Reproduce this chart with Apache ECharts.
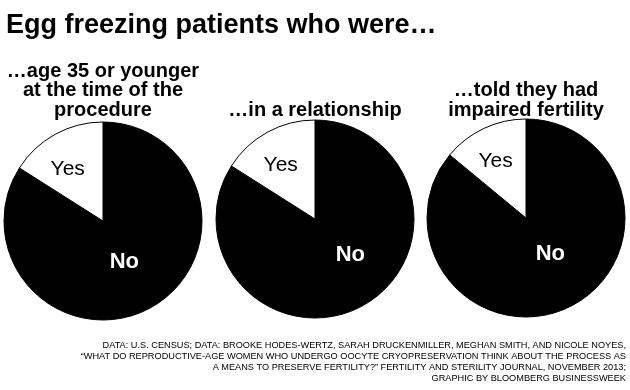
<!DOCTYPE html>
<html>
<head>
<meta charset="utf-8">
<script src="https://cdn.jsdelivr.net/npm/echarts@6/dist/echarts.min.js"></script>
<style>
  html, body { margin: 0; padding: 0; background: #ffffff; }
  #chart { width: 630px; height: 390px; }
</style>
</head>
<body>
<div id="chart"></div>
<script>
// ---- Data ----
const mainTitle = 'Egg freezing patients who were\u2026';
const questions = [
  '\u2026age 35 or younger\nat the time of the\nprocedure',
  '\u2026in a relationship',
  '\u2026told they had\nimpaired fertility'
];
const categories = ['No', 'Yes'];
const noValues = [84, 84, 86];
const yesValues = [16, 16, 14];
const footnoteLines = [
  'DATA: U.S. CENSUS; DATA: BROOKE HODES-WERTZ, SARAH DRUCKENMILLER, MEGHAN SMITH, AND NICOLE NOYES,',
  '\u201CWHAT DO REPRODUCTIVE-AGE WOMEN WHO UNDERGO OOCYTE CRYOPRESERVATION THINK ABOUT THE PROCESS AS',
  'A MEANS TO PRESERVE FERTILITY?\u201D FERTILITY AND STERILITY JOURNAL, NOVEMBER 2013;',
  'GRAPHIC BY BLOOMBERG BUSINESSWEEK'
];

// ---- Layout ----
const FONT = '"Liberation Sans", Arial, Helvetica, sans-serif';
const centers = [[103, 221], [315, 219], [526, 218]];
const radius = 99;
// label nudges (dx, dy) relative to default inside position
const yesNudge = [[-10, -6], [-9, -8], [-8, -9]];
const noNudge = [[-4, -5], [10, -10], [2, -12]];

const chart = echarts.init(document.getElementById('chart'), null, { renderer: 'canvas' });

const series = questions.map((q, i) => ({
  type: 'pie',
  center: centers[i],
  radius: [0, radius],
  startAngle: 90,
  clockwise: true,
  silent: true,
  animation: false,
  label: {
    show: true,
    position: 'inside',
    fontFamily: FONT
  },
  labelLine: { show: false },
  labelLayout: function (params) {
    const n = params.dataIndex === 0 ? noNudge[i] : yesNudge[i];
    return { dx: n[0], dy: n[1] };
  },
  itemStyle: { borderColor: '#000000', borderWidth: 1 },
  emphasis: { disabled: true },
  data: [
    {
      name: categories[0], value: noValues[i],
      itemStyle: { color: '#000000' },
      label: { color: '#ffffff', fontSize: 22, fontWeight: 'bold', formatter: '{b}' }
    },
    {
      name: categories[1], value: yesValues[i],
      itemStyle: { color: '#ffffff' },
      label: { color: '#000000', fontSize: 21, fontWeight: 'normal', formatter: '{b}' }
    }
  ]
}));

const graphics = questions.map((q, i) => ({
  type: 'text',
  x: centers[i][0],
  y: 120,
  silent: true,
  style: {
    text: q,
    fill: '#000000',
    fontSize: 20,
    fontWeight: 'bold',
    fontFamily: FONT,
    lineHeight: 19.5,
    align: 'center',
    verticalAlign: 'bottom'
  }
}));

graphics.push({
  type: 'text',
  x: 626,
  y: 339.5,
  silent: true,
  style: {
    text: footnoteLines.join('\n'),
    fill: '#000000',
    fontSize: 9.2,
    fontWeight: 500,
    fontFamily: FONT,
    lineHeight: 11,
    align: 'right',
    verticalAlign: 'top'
  }
});

chart.setOption({
  backgroundColor: '#ffffff',
  animation: false,
  title: {
    text: mainTitle,
    left: 6,
    top: 8,
    padding: 0,
    textStyle: {
      fontFamily: FONT,
      fontSize: 27,
      fontWeight: 'bold',
      color: '#000000',
      lineHeight: 36
    }
  },
  tooltip: { show: false },
  legend: { show: false },
  graphic: graphics,
  series: series
});
</script>
</body>
</html>
